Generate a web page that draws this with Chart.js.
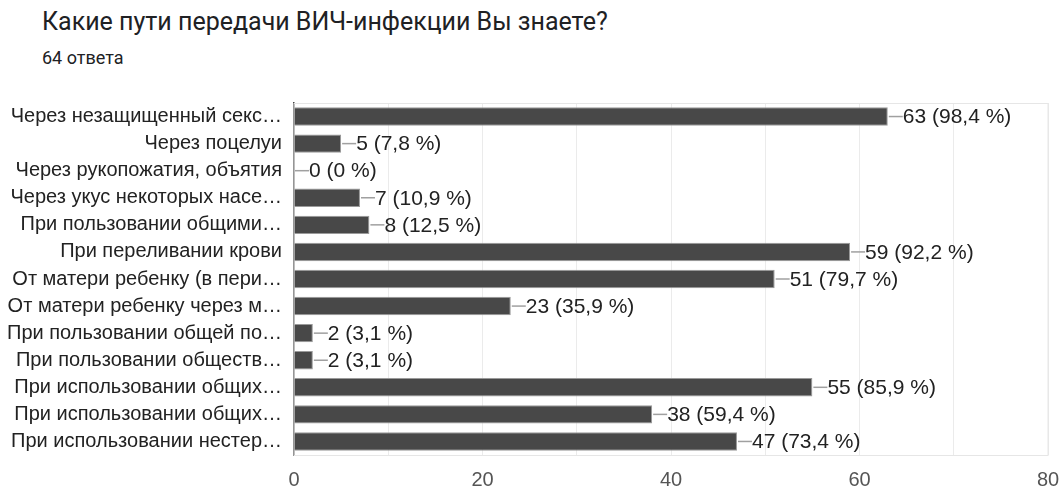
<!DOCTYPE html>
<html>
<head>
<meta charset="utf-8">
<script src="https://cdn.jsdelivr.net/npm/chart.js@4"></script>
<style>
  body { margin: 0; background: #fff; font-family: Roboto, sans-serif; }
  #wrap { position: relative; width: 1063px; height: 487px; }
  #title { position: absolute; left: 42px; top: 9px; font-size: 25px; line-height: 1; color: #202124; }
  #sub { position: absolute; left: 42px; top: 49px; font-size: 18px; line-height: 1; color: #202124; }
  canvas { position: absolute; left: 0; top: 0; }
</style>
</head>
<body>
<div id="wrap">
  <div id="title">Какие пути передачи ВИЧ-инфекции Вы знаете?</div>
  <div id="sub">64 ответа</div>
  <canvas id="answersChart" width="1063" height="487"></canvas>
</div>
<script>
const categories = [
    'Через незащищенный секс…',
    'Через поцелуи',
    'Через рукопожатия, объятия',
    'Через укус некоторых насе…',
    'При пользовании общими…',
    'При переливании крови',
    'От матери ребенку (в пери…',
    'От матери ребенку через м…',
    'При пользовании общей по…',
    'При пользовании обществ…',
    'При использовании общих…',
    'При использовании общих…',
    'При использовании нестер…'
];
const answers = [63, 5, 0, 7, 8, 59, 51, 23, 2, 2, 55, 38, 47];
const percents = ['98,4', '7,8', '0', '10,9', '12,5', '92,2', '79,7', '35,9', '3,1', '3,1', '85,9', '59,4', '73,4'];
const xTicks = [0, 20, 40, 60, 80];

const labelFont = '"Liberation Sans", Arial, sans-serif';

// подписи значений с короткой линией от конца столбца
const valueLabels = {
    id: 'valueLabels',
    afterDatasetsDraw(chart) {
        const c = chart.ctx;
        const meta = chart.getDatasetMeta(0);
        c.save();
        c.font = '21px ' + labelFont;
        c.textBaseline = 'middle';
        meta.data.forEach((bar, i) => {
            const x = bar.x, y = bar.y;
            c.strokeStyle = '#a0a0a0';
            c.lineWidth = 1.5;
            c.beginPath();
            c.moveTo(x + 1, y);
            c.lineTo(x + 15, y);
            c.stroke();
            c.fillStyle = '#222';
            c.fillText(answers[i] + ' (' + percents[i] + ' %)', x + 15, y + 1);
        });
        c.restore();
    }
};

// рамка области графика
const areaBorder = {
    id: 'areaBorder',
    beforeDatasetsDraw(chart) {
        const a = chart.chartArea, c = chart.ctx;
        c.save();
        c.strokeStyle = '#e6e6e6';
        c.lineWidth = 1;
        c.strokeRect(a.left, a.top + 0.5, a.right - a.left, a.bottom - a.top);
        c.restore();
    }
};

const ctx = document.getElementById('answersChart').getContext('2d');
new Chart(ctx, {
    type: 'bar',
    data: {
        labels: categories,
        datasets: [{
            data: answers,
            backgroundColor: '#484848',
            borderColor: '#9a9a9a',
            borderWidth: 1,
            borderSkipped: 'left',
            barPercentage: 0.68,
            categoryPercentage: 1.0
        }]
    },
    options: {
        indexAxis: 'y',
        responsive: false,
        animation: false,
        layout: { padding: { top: 103, left: 0, right: 15, bottom: 0 } },
        plugins: {
            legend: { display: false },
            tooltip: { enabled: false }
        },
        scales: {
            x: {
                min: 0,
                max: 80,
                afterBuildTicks(scale) {
                    const t = [];
                    for (let v = 0; v <= 80; v += 10) t.push({ value: v });
                    scale.ticks = t;
                },
                afterFit(scale) {
                    scale.height = 32;
                    scale.paddingRight = 0;
                    scale.paddingLeft = 0;
                },
                grid: { color: '#ebebeb', drawTicks: false },
                border: { display: false },
                ticks: {
                    padding: 13,
                    color: '#555',
                    maxRotation: 0,
                    font: { family: labelFont, size: 20 },
                    callback: v => xTicks.includes(v) ? v : ''
                }
            },
            y: {
                afterFit(scale) { scale.width = 294; },
                grid: { display: false },
                border: { color: '#444', width: 1.5 },
                ticks: {
                    autoSkip: false,
                    padding: 4,
                    color: '#222',
                    font: { family: labelFont, size: 20 }
                }
            }
        }
    },
    plugins: [areaBorder, valueLabels]
});
</script>
</body>
</html>
